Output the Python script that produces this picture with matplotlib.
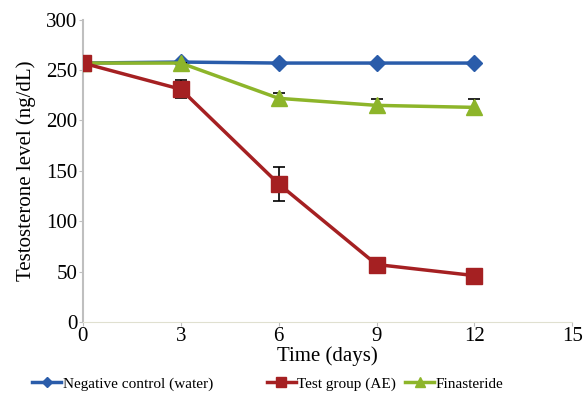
import matplotlib
matplotlib.use("Agg")
import matplotlib.pyplot as plt
from matplotlib.lines import Line2D

days = [0, 3, 6, 9, 12]
neg_control = [257, 258, 257, 257, 257]
test_group = [257, 231, 137, 57, 46]
test_err = [0, 9, 17, 6, 0]
finasteride = [257, 257, 222, 215, 213]
fin_err = [0, 0, 5, 6, 8]
xticks = [0, 3, 6, 9, 12, 15]
yticks = [0, 50, 100, 150, 200, 250, 300]
names = ['Negative control (water)', 'Test group (AE)', 'Finasteride']

plt.rcParams['font.family'] = ['Liberation Serif', 'DejaVu Serif']

c_blue, c_red, c_green = '#2A5CAA', '#A52022', '#8DB52A'

fig = plt.figure(figsize=(5.84, 3.95), dpi=100)
ax = fig.add_axes([0.142, 0.185, 0.838, 0.765])

ax.plot(days, neg_control, color=c_blue, lw=2.5, marker='D', ms=8, zorder=3)
ax.errorbar(days, test_group, yerr=test_err, color=c_red, lw=2.5,
            marker='s', ms=11, ecolor='black', elinewidth=1.2, capsize=4,
            capthick=1.2, zorder=4)
ax.errorbar(days, finasteride, yerr=fin_err, color=c_green, lw=2.5,
            marker='^', ms=11, ecolor='black', elinewidth=1.2, capsize=4,
            capthick=1.2, zorder=3)

ax.set_xlim(0, 15)
ax.set_ylim(0, 300)
ax.set_xticks(xticks)
ax.set_yticks(yticks)
ax.tick_params(labelsize=15, length=3, color='#BFBFBF', pad=1)
ax.set_xlabel('Time (days)', fontsize=15, labelpad=0)
ax.set_ylabel('Testosterone level (ng/dL)', fontsize=15, labelpad=7)
for s in ['top', 'right']:
    ax.spines[s].set_visible(False)
ax.spines['left'].set_color('#BFBFBF')
ax.spines['bottom'].set_color('#E0E0D0')
ax.spines['left'].set_linewidth(1.5)

handles = [
    Line2D([], [], color=c_blue, lw=2.5, marker='D', ms=5),
    Line2D([], [], color=c_red, lw=2.5, marker='s', ms=7),
    Line2D([], [], color=c_green, lw=2.5, marker='^', ms=7),
]
x_left = [0.055, 0.457, 0.694]
for h, n, xl in zip(handles, names, x_left):
    fig.legend(handles=[h], labels=[n], loc='center left',
               bbox_to_anchor=(xl, 0.028), frameon=False, fontsize=11,
               handlelength=1.9, handletextpad=0.1, borderpad=0,
               borderaxespad=0)

fig.savefig('out.png', dpi=100)
